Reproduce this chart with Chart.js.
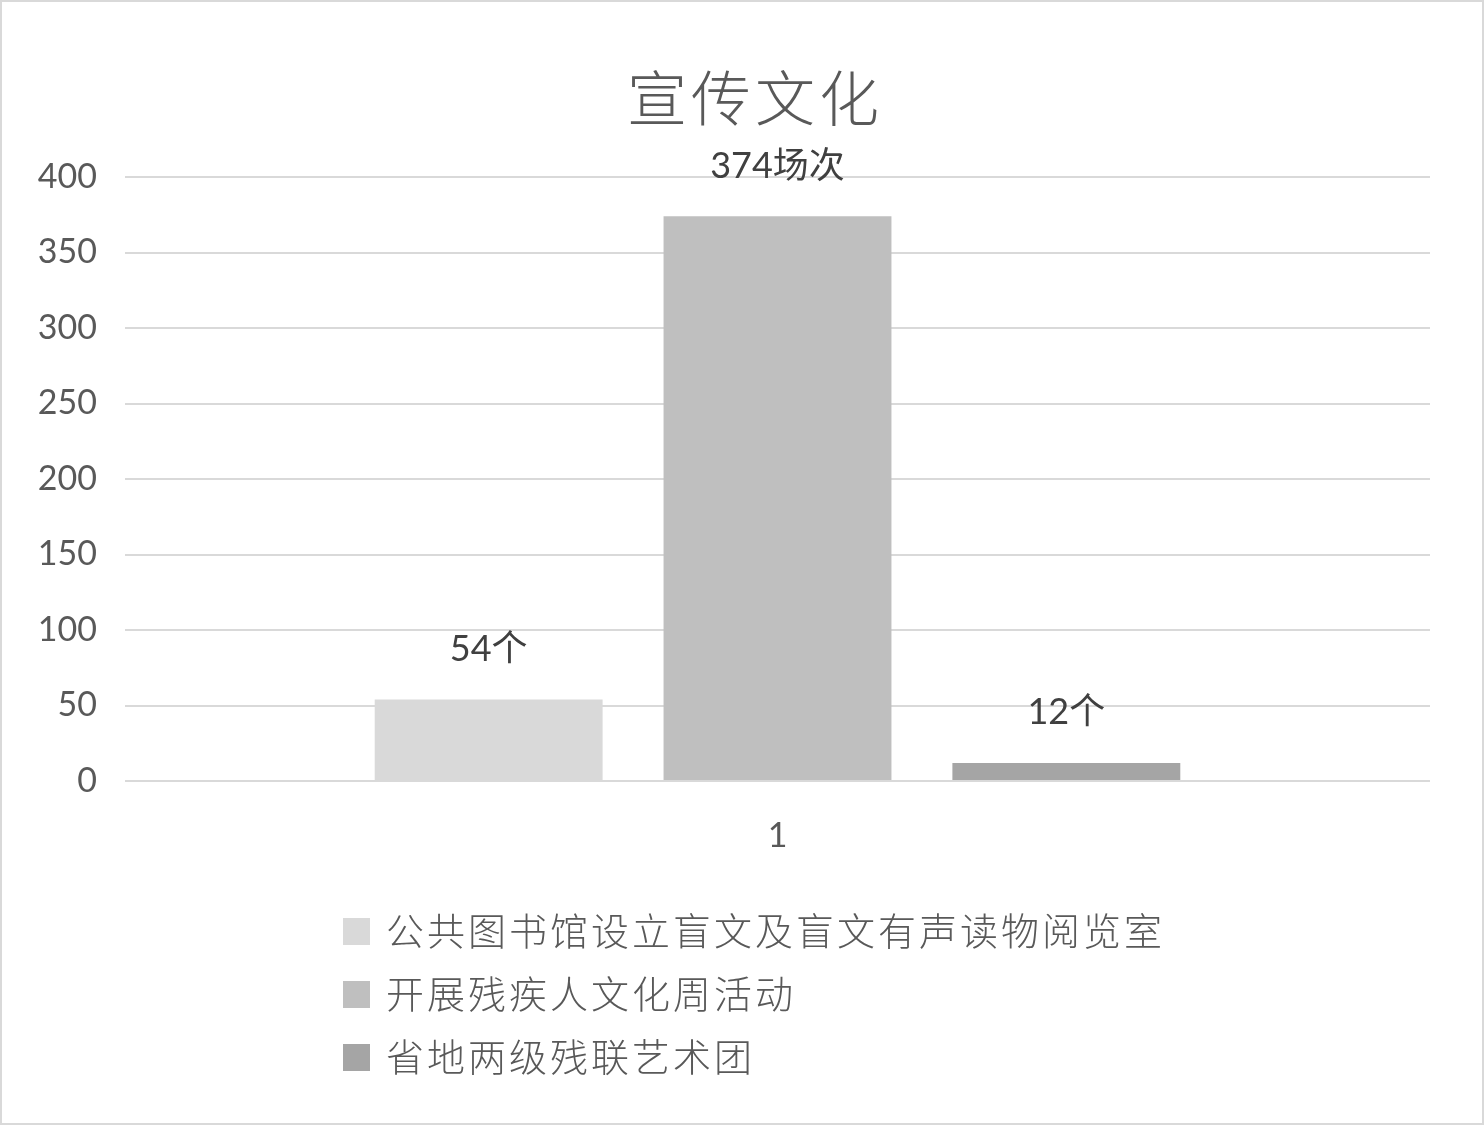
<!DOCTYPE html>
<html>
<head>
<meta charset="utf-8">
<script src="https://cdn.jsdelivr.net/npm/chart.js@4/dist/chart.umd.min.js"></script>
<style>
  html, body { margin: 0; padding: 0; background: #fff; }
  #wrap { width: 1484px; height: 1125px; }
</style>
</head>
<body>
<div id="wrap"><canvas id="chart" width="1484" height="1125"></canvas></div>
<script>
// ── Data ──────────────────────────────────────────────────────────────────────
const TITLE      = "宣传文化";
const CATEGORIES = ["1"];
const SERIES     = ["公共图书馆设立盲文及盲文有声读物阅览室", "开展残疾人文化周活动", "省地两级残联艺术团"];
const VALUES     = [54, 374, 12];
const LABELS     = ["54个", "374场次", "12个"];
const COLORS     = ["#d9d9d9", "#bfbfbf", "#a5a5a5"];
const Y_TICKS    = [0, 50, 100, 150, 200, 250, 300, 350, 400];

const FONT = "Lato, 'Noto Sans CJK SC', sans-serif";
const CJK  = "'Noto Sans CJK SC', sans-serif";

// ── Plugins ───────────────────────────────────────────────────────────────────
const frame = {
  id: "frame",
  beforeDraw(chart) {
    const { ctx, width, height } = chart;
    ctx.save();
    ctx.fillStyle = "#fff";
    ctx.fillRect(0, 0, width, height);
    ctx.strokeStyle = "#d9d9d9";
    ctx.lineWidth = 2;
    ctx.strokeRect(1, 1, width - 2, height - 2);
    ctx.restore();
  },
  afterDraw(chart) {
    const { ctx } = chart;
    ctx.save();
    // title (letterSpacing adds trailing space, shift to keep it centred)
    ctx.fillStyle = "#595959";
    ctx.font = `300 60px ${CJK}`;
    ctx.letterSpacing = "4px";
    ctx.textAlign = "center";
    ctx.textBaseline = "middle";
    ctx.fillText(TITLE, 755, 98);

    // bar value labels
    ctx.letterSpacing = "0px";
    ctx.fillStyle = "#404040";
    ctx.font = `36px ${FONT}`;
    chart.data.datasets.forEach((ds, i) => {
      const bar = chart.getDatasetMeta(i).data[0];
      ctx.fillText(LABELS[i], bar.x, bar.y - 50);
    });

    // legend
    ctx.textAlign = "left";
    ctx.font = `300 38px ${CJK}`;
    ctx.letterSpacing = "3px";
    SERIES.forEach((name, i) => {
      const y = 931 + i * 63;
      ctx.fillStyle = COLORS[i];
      ctx.fillRect(343, y - 13, 27, 27);
      ctx.fillStyle = "#595959";
      ctx.fillText(name, 386, y);
    });
    ctx.restore();
  }
};

// ── Chart ─────────────────────────────────────────────────────────────────────
new Chart(document.getElementById("chart"), {
  type: "bar",
  data: {
    labels: CATEGORIES,
    datasets: SERIES.map((name, i) => ({
      label: name,
      data: [VALUES[i]],
      backgroundColor: COLORS[i],
      borderWidth: 0,
    }))
  },
  options: {
    responsive: false,
    animation: false,
    categoryPercentage: 0.664,
    barPercentage: 0.789,
    layout: { padding: { top: 177, right: 54, left: 0, bottom: 0 } },
    plugins: { legend: { display: false }, title: { display: false }, tooltip: { enabled: false } },
    scales: {
      x: {
        grid: { display: false, drawTicks: false },
        border: { display: false },
        ticks: { color: "#595959", font: { family: FONT, size: 34 }, padding: 35 },
        afterFit: s => { s.height = 1125 - 781; }
      },
      y: {
        min: 0, max: 400,
        afterBuildTicks: s => { s.ticks = Y_TICKS.map(v => ({ value: v })); },
        grid: { color: "#d9d9d9", lineWidth: 2, drawTicks: false },
        border: { display: false },
        ticks: { color: "#595959", font: { family: FONT, size: 34 }, padding: 28 },
        afterFit: s => { s.width = 125; }
      }
    }
  },
  plugins: [frame]
});
</script>
</body>
</html>
